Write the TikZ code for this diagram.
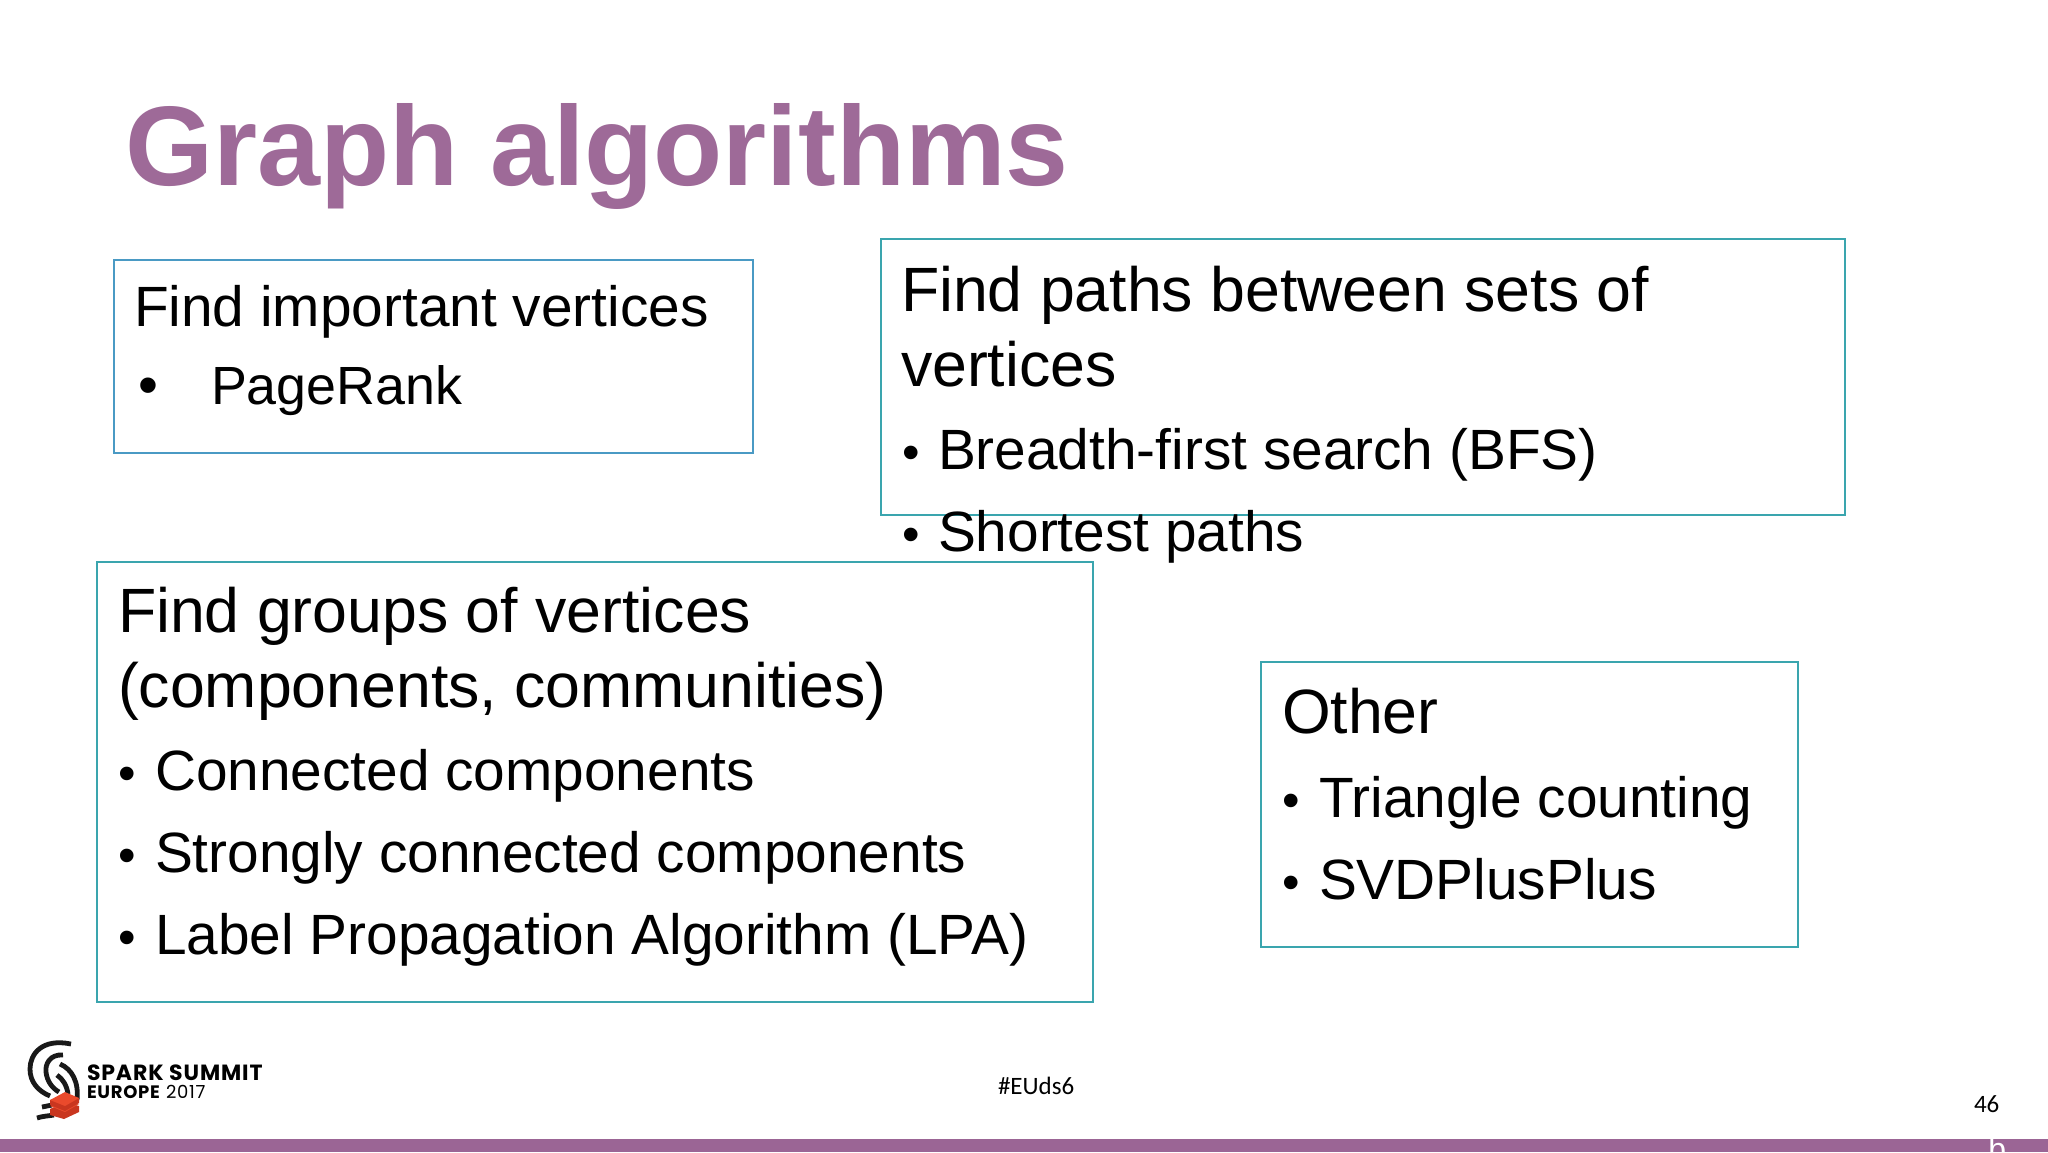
\documentclass[tikz,border=0pt]{standalone}
\usepackage{fontspec}
\usepackage{xcolor}
\usetikzlibrary{positioning}
\setmainfont{Liberation Sans}
\newfontfamily\slidefoot{Carlito}
\newfontfamily\logofont[LetterSpace=4]{Poppins}
\definecolor{slide-purple}{HTML}{9B6595}
\definecolor{box-teal}{HTML}{3AA5AE}
\definecolor{box-blue}{HTML}{4A9AC4}
\definecolor{logo-red}{HTML}{EA4A2C}
\definecolor{logo-dark}{HTML}{C9361F}

\begin{document}
\begin{tikzpicture}
[
x=0.5pt, y=-0.5pt,
box-a/.style={rectangle, draw=box-teal, line width=1pt, anchor=north west, outer sep=0pt, inner sep=0pt},
text-a/.style={black, inner sep=0pt, outer sep=0pt, font=\fontsize{31.3}{31.3}\selectfont},
text-b/.style={black, inner sep=0pt, outer sep=0pt, font=\fontsize{28.4}{28.4}\selectfont},
dot-a/.style={black, inner sep=0pt, outer sep=0pt, font=\fontsize{25}{25}\selectfont},
foot-a/.style={black, inner sep=0pt, outer sep=0pt, anchor=base west, font=\slidefoot\fontsize{12.5}{12.5}\selectfont},
logo-a/.style={black, inner sep=0pt, outer sep=0pt, anchor=base west},
arc-a/.style={black!90, line width=2.4pt},
base-a/.style={anchor=base west}
]
\useasboundingbox [fill=white] (0,0) rectangle (2048,1152);

\node (title)      [inner sep=0pt, anchor=base west, text=slide-purple!97!white, font=\fontsize{56.6}{56.6}\selectfont\bfseries] at (125,185) {Graph algorithms};

\node (box-1)      [box-a, draw=box-blue, minimum width=319.5pt, minimum height=96.5pt] at (114,260) {};
\node (box-2)      [box-a, minimum width=482pt,   minimum height=138pt]  at (881,239)  {};
\node (box-3)      [box-a, minimum width=498pt,   minimum height=220pt]  at (97,562)   {};
\node (box-4)      [box-a, minimum width=268.5pt, minimum height=142.5pt] at (1261,662) {};

\node (head-1)     [text-b, below right = 33pt and 10pt of box-1.north west, base-a]     {Find important vertices};
\node (dot-1)      [text-b, below right = 39pt and 2pt of head-1.base west, base-a]      {•};
\node (page)       [text-b, font=\fontsize{26.9}{26.9}\selectfont, right = 36.5pt of dot-1.base west, base-a] {PageRank};

\node (head-2)     [text-a, below right = 36pt and 10pt of box-2.north west, base-a]     {Find paths between sets of};
\node (head-2-b)   [text-a, below = 37.5pt of head-2.base west, base-a]                  {vertices};
\node (dot-2)      [dot-a, below right = 41.5pt and 0.5pt of head-2-b.base west, base-a] {•};
\node (bfs)        [text-b, right = 18pt of dot-2.base west, base-a]                     {Breadth-first search (BFS)};
\node (dot-3)      [dot-a, below = 41pt of dot-2.base west, base-a]                      {•};
\node (short)      [text-b, right = 18pt of dot-3.base west, base-a]                     {Shortest paths};

\node (head-3)     [text-a, below right = 35pt and 10.5pt of box-3.north west, base-a]   {Find groups of vertices};
\node (head-3-b)   [text-a, below = 37.5pt of head-3.base west, base-a]                  {(components, communities)};
\node (dot-4)      [dot-a, below right = 41.5pt and 0pt of head-3-b.base west, base-a]   {•};
\node (conn)       [text-b, right = 18.5pt of dot-4.base west, base-a]                   {Connected components};
\node (dot-5)      [dot-a, below = 41pt of dot-4.base west, base-a]                      {•};
\node (strong)     [text-b, right = 18.5pt of dot-5.base west, base-a]                   {Strongly connected components};
\node (dot-6)      [dot-a, below = 41pt of dot-5.base west, base-a]                      {•};
\node (lpa)        [text-b, right = 18.5pt of dot-6.base west, base-a]                   {Label Propagation Algorithm (LPA)};

\node (head-4)     [text-a, below right = 35.5pt and 10.5pt of box-4.north west, base-a] {Other};
\node (dot-7)      [dot-a, below right = 42pt and 0pt of head-4.base west, base-a]       {•};
\node (tri)        [text-b, right = 18.5pt of dot-7.base west, base-a]                   {Triangle counting};
\node (dot-8)      [dot-a, below = 41pt of dot-7.base west, base-a]                      {•};
\node (svd)        [text-b, right = 18.5pt of dot-8.base west, base-a]                   {SVDPlusPlus};

\fill [slide-purple] (0,1139) rectangle (2048,1152);
\node (cut-b)      [inner sep=0pt, anchor=base west, white, font=\fontsize{16}{16}\selectfont] at (1988,1160) {b};

\node (tag)        [foot-a] at (998,1094)  {\#EUds6};
\node (num)        [foot-a] at (1974,1112) {46};

\draw [arc-a] (71,1044) .. controls (42,1038) and (30,1054) .. (30,1069) .. controls (30,1082) and (38,1091) .. (50,1096);
\draw [arc-a] (63,1055) .. controls (50,1054) and (45,1064) .. (46,1072) .. controls (47,1081) and (52,1088) .. (59,1092);
\draw [arc-a] (57,1075) .. controls (63,1079) and (67,1086) .. (68,1094);
\draw [arc-a] (60,1064) .. controls (72,1069) and (79,1082) .. (77,1100);
\draw [arc-a] (37,1118) .. controls (43,1116) and (48,1116) .. (54,1115);
\draw [arc-a] (42,1107) -- (52,1105);
\fill [logo-dark] (50,1109) -- (65,1102) -- (79,1106) -- (79,1112) -- (64,1119) -- (50,1115) -- cycle;
\fill [logo-red]  (50,1106) -- (65,1099) -- (79,1104) -- (65,1112) -- cycle;
\fill [logo-dark] (50,1100) -- (50,1105) -- (65,1111) -- (79,1103) -- (79,1098) -- cycle;
\fill [logo-red]  (50,1100) -- (65,1092) -- (79,1098) -- (65,1106) -- cycle;
\node (logo-1)     [logo-a, font=\logofont\fontsize{11}{11}\selectfont\bfseries] at (87,1080) {SPARK SUMMIT};
\node (logo-2)     [logo-a, font=\logofont\fontsize{9}{9}\selectfont] at (87,1098) {\textbf{EUROPE} 2017};
\end{tikzpicture}
\end{document}
